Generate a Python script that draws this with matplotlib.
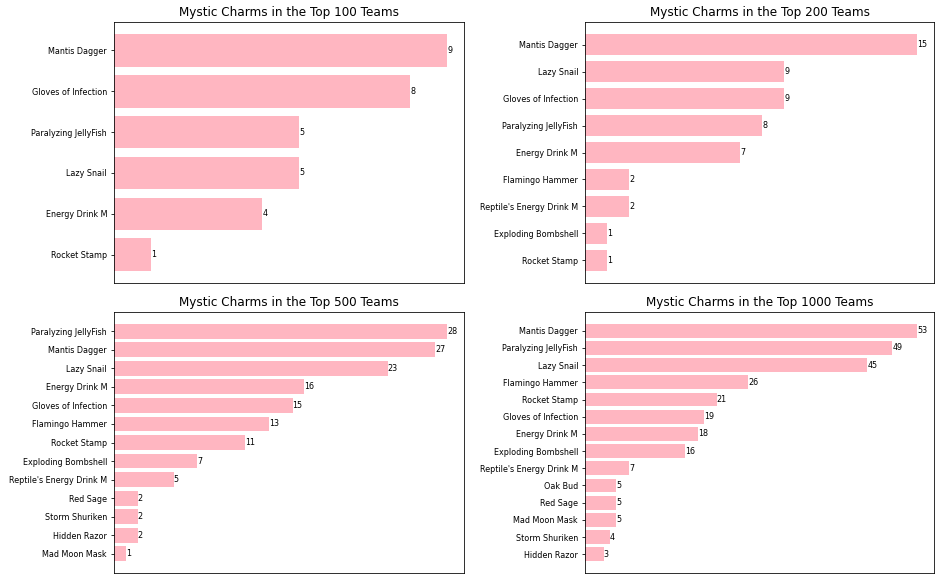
import matplotlib
matplotlib.use('Agg')
import matplotlib.pyplot as plt

titulos = ['Mystic Charms in the Top 100 Teams', 'Mystic Charms in the Top 200 Teams',
           'Mystic Charms in the Top 500 Teams', 'Mystic Charms in the Top 1000 Teams']

nomes_100 = ['Mantis Dagger', 'Gloves of Infection', 'Paralyzing JellyFish', 'Lazy Snail',
             'Energy Drink M', 'Rocket Stamp']
valores_100 = [9, 8, 5, 5, 4, 1]

nomes_200 = ['Mantis Dagger', 'Lazy Snail', 'Gloves of Infection', 'Paralyzing JellyFish',
             'Energy Drink M', 'Flamingo Hammer', "Reptile's Energy Drink M",
             'Exploding Bombshell', 'Rocket Stamp']
valores_200 = [15, 9, 9, 8, 7, 2, 2, 1, 1]

nomes_500 = ['Paralyzing JellyFish', 'Mantis Dagger', 'Lazy Snail', 'Energy Drink M',
             'Gloves of Infection', 'Flamingo Hammer', 'Rocket Stamp', 'Exploding Bombshell',
             "Reptile's Energy Drink M", 'Red Sage', 'Storm Shuriken', 'Hidden Razor',
             'Mad Moon Mask']
valores_500 = [28, 27, 23, 16, 15, 13, 11, 7, 5, 2, 2, 2, 1]

nomes_1000 = ['Mantis Dagger', 'Paralyzing JellyFish', 'Lazy Snail', 'Flamingo Hammer',
              'Rocket Stamp', 'Gloves of Infection', 'Energy Drink M', 'Exploding Bombshell',
              "Reptile's Energy Drink M", 'Oak Bud', 'Red Sage', 'Mad Moon Mask',
              'Storm Shuriken', 'Hidden Razor']
valores_1000 = [53, 49, 45, 26, 21, 19, 18, 16, 7, 5, 5, 5, 4, 3]

dados = [(nomes_100, valores_100), (nomes_200, valores_200),
         (nomes_500, valores_500), (nomes_1000, valores_1000)]

fig = plt.figure(figsize=(942 / 72, 580 / 72), dpi=72)

# posicoes dos eixos (esquerda, baixo, largura, altura)
posicoes = [
    [114 / 942, 297 / 580, 350 / 942, 261 / 580],
    [585 / 942, 297 / 580, 349 / 942, 261 / 580],
    [114 / 942, 7 / 580, 350 / 942, 261 / 580],
    [585 / 942, 7 / 580, 349 / 942, 261 / 580],
]

for pos, titulo, (nomes, valores) in zip(posicoes, titulos, dados):
    ax = fig.add_axes(pos)
    barras = ax.barh(nomes, valores, color='lightpink')
    ax.invert_yaxis()
    for barra, v in zip(barras, valores):
        ax.text(barra.get_width(), barra.get_y() + barra.get_height() / 2, str(v),
                va='center', ha='left', fontsize=8)
    ax.set_xticks([])
    ax.tick_params(axis='y', labelsize=8)
    ax.set_title(titulo, fontsize=12)

plt.savefig('out.png', dpi=72)
